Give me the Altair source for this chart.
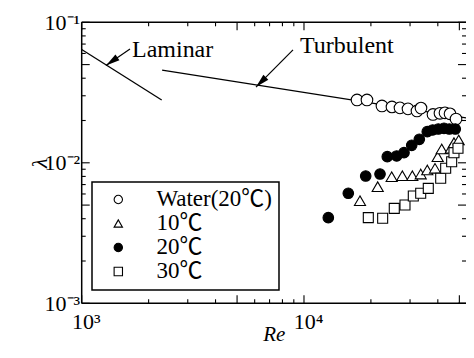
import altair as alt
import pandas as pd

# ---------------- data ----------------
series = ["Water(20℃)", "10℃", "20℃", "30℃"]

water_re = [17320, 19200, 22430, 24880, 27030, 29370, 32230, 33600, 38050, 40900, 43080, 45390, 48300]
water_lam = [0.0280, 0.0280, 0.0254, 0.0250, 0.0246, 0.0242, 0.0234, 0.0245, 0.0221, 0.0225, 0.0227, 0.0223, 0.0205]

t10_re = [17860, 21460, 24800, 27690, 30710, 33500, 35860, 38850, 39940, 41640, 45700, 47290, 49650]
t10_lam = [0.00537, 0.00676, 0.00796, 0.00809, 0.00809, 0.00832, 0.00889, 0.00914, 0.01105, 0.01254, 0.01268, 0.0139, 0.01453]

t20_re = [12865, 15825, 18950, 21980, 23700, 26120, 28180, 30520, 33020, 35860, 37920, 40180, 42640, 45050, 47920]
t20_lam = [0.00407, 0.00607, 0.00805, 0.00832, 0.01105, 0.01118, 0.0118, 0.01332, 0.01469, 0.01665, 0.01712, 0.0174, 0.0176, 0.0174, 0.0174]

t30_re = [19470, 22590, 25480, 28470, 31030, 33500, 36240, 41210, 43390, 46170, 47290, 49300]
t30_lam = [0.00407, 0.00403, 0.00474, 0.00501, 0.0058, 0.00607, 0.00658, 0.00776, 0.00914, 0.01018, 0.0118, 0.01268]

laminar_re = [1000, 2290]
laminar_lam = [0.064, 0.028]
turbulent_re = [2300, 60000]
turbulent_lam = [0.0457, 0.0203]

# annotation arrows: tail -> head
arrow_names = ["Laminar", "Turbulent"]
arrow_tail_re = [1649, 8925]
arrow_tail_lam = [0.0646, 0.0636]
arrow_head_re = [1286, 6081]
arrow_head_lam = [0.0493, 0.0346]
label_re = [1684, 9594]
label_lam = [0.0569, 0.0602]

x_major = [1000, 5000, 10000, 50000]
x_minor = [2000, 3000, 4000, 6000, 7000, 8000, 9000, 20000, 30000, 40000]
y_major = [0.001, 0.005, 0.01, 0.05, 0.1]
y_minor = [0.002, 0.003, 0.004, 0.006, 0.007, 0.008, 0.009,
           0.02, 0.03, 0.04, 0.06, 0.07, 0.08, 0.09]

# ---------------- chart ----------------
W, H = 384.3, 281
FONT = "Liberation Serif"
LFONT = "Liberation Serif, Noto Sans CJK JP"

xscale = alt.Scale(type="log", domain=[1000, 53560], nice=False)
yscale = alt.Scale(type="log", domain=[0.001, 0.1], nice=False)

xaxis = alt.Axis(values=[1000, 10000],
                 labelExpr="datum.value < 5000 ? '10³' : '10⁴'",
                 ticks=False, tickSize=0, domain=False, grid=False,
                 labelFont=FONT, labelFontSize=22, labelColor="black",
                 labelPadding=8, labelOffset=4, labelFlush=False, labelOverlap=False,
                 title="Re", titleFont=FONT, titleFontSize=21, titleFontStyle="italic",
                 titleFontWeight="normal", titleColor="black", titleY=37,
                 titleBaseline="alphabetic")
yaxis = alt.Axis(values=[0.001, 0.01, 0.1],
                 labelExpr="datum.value < 0.005 ? '10⁻³' : (datum.value < 0.05 ? '10⁻²' : '10⁻¹')",
                 ticks=False, tickSize=0, domain=False, grid=False,
                 labelFont=FONT, labelFontSize=22, labelColor="black",
                 labelPadding=2, labelAlign="right", labelBaseline="middle",
                 labelFlush=False, labelOverlap=False,
                 title="λ", titleFont=FONT, titleFontSize=22, titleFontStyle="italic",
                 titleFontWeight="normal", titleColor="black", titleX=-42, titleY=140.5,
                 titleAngle=270, titleAlign="center", titleBaseline="middle")


def X(f):
    return alt.X(f, type="quantitative", scale=xscale, axis=xaxis)


def Y(f):
    return alt.Y(f, type="quantitative", scale=yscale, axis=yaxis)


layers = []
one = pd.DataFrame({"a": [0]})

# frame: left, top, bottom (right edge lies beyond the cropped figure)
layers.append(alt.Chart(one).mark_rule(color="black", strokeWidth=1.5).encode(
    x=alt.value(0), y=alt.value(0), y2=alt.value(H)))
layers.append(alt.Chart(one).mark_rule(color="black", strokeWidth=1.5).encode(
    y=alt.value(0), x=alt.value(0), x2=alt.value(W)))
layers.append(alt.Chart(one).mark_rule(color="black", strokeWidth=1.5).encode(
    y=alt.value(H), x=alt.value(0), x2=alt.value(W)))

# tick marks (inward) on all four sides
for vals, ln in [(x_major, 8), (x_minor, 4)]:
    d = pd.DataFrame({"v": vals})
    layers.append(alt.Chart(d).mark_rule(color="black", strokeWidth=1.1).encode(
        x=X("v"), y=alt.value(H), y2=alt.value(H - ln)))
    layers.append(alt.Chart(d).mark_rule(color="black", strokeWidth=1.1).encode(
        x=X("v"), y=alt.value(0), y2=alt.value(ln)))
for vals, ln in [(y_major, 8), (y_minor, 4)]:
    d = pd.DataFrame({"v": vals})
    layers.append(alt.Chart(d).mark_rule(color="black", strokeWidth=1.1).encode(
        y=Y("v"), x=alt.value(0), x2=alt.value(ln)))
    layers.append(alt.Chart(d).mark_rule(color="black", strokeWidth=1.1).encode(
        y=Y("v"), x=alt.value(W), x2=alt.value(W - ln)))

# laminar & turbulent lines
lam_df = pd.DataFrame({"Re": laminar_re, "lam": laminar_lam})
tur_df = pd.DataFrame({"Re": turbulent_re, "lam": turbulent_lam})
layers.append(alt.Chart(lam_df).mark_line(color="black", strokeWidth=1.3, clip=True).encode(
    x=X("Re"), y=Y("lam")))
layers.append(alt.Chart(tur_df).mark_line(color="black", strokeWidth=1.4, clip=True).encode(
    x=X("Re"), y=Y("lam")))

# arrows
arr_df = pd.DataFrame({"name": arrow_names, "x1": arrow_tail_re, "y1": arrow_tail_lam,
                       "x2": arrow_head_re, "y2": arrow_head_lam,
                       "lx": label_re, "ly": label_lam})
layers.append(alt.Chart(arr_df).mark_rule(color="black", strokeWidth=1.2).encode(
    x=X("x1"), x2=alt.X2("x2"), y=Y("y1"), y2=alt.Y2("y2")))
head_path = "M0,0L0.45,1.8L-0.45,1.8Z"
for name, ang in [("Laminar", 235), ("Turbulent", 225)]:
    layers.append(alt.Chart(arr_df[arr_df["name"] == name]).mark_point(
        shape=head_path, filled=True, color="black", size=242, angle=ang, opacity=1,
        strokeWidth=0).encode(x=X("x2"), y=Y("y2")))
layers.append(alt.Chart(arr_df).mark_text(
    align="left", baseline="alphabetic", font=FONT, fontSize=24, color="black").encode(
    x=X("lx"), y=Y("ly"), text="name:N"))

# data points
frames = []
for s, r, l in zip(series, [water_re, t10_re, t20_re, t30_re],
                   [water_lam, t10_lam, t20_lam, t30_lam]):
    frames.append(pd.DataFrame({"Re": r, "lam": l, "s": s, "g": s}))
pts = pd.concat(frames, ignore_index=True)

legend = alt.Legend(title=None, orient="none", legendX=10.3, legendY=159.7,
                    strokeColor="black", fillColor="white", padding=6, rowPadding=-2,
                    symbolSize=70, symbolOffset=8.8, labelOffset=26.6,
                    labelFont=LFONT, labelFontSize=23, labelColor="black",
                    symbolStrokeColor="black", symbolStrokeWidth=1.1,
                    labelExpr="indexof(datum.value, 'Water') >= 0 ? datum.value : '\u00a0\u00a0' + datum.value")

layers.append(alt.Chart(pts).mark_point(filled=False, strokeWidth=1.1,
                                        opacity=1, fillOpacity=1).encode(
    x=X("Re"), y=Y("lam"),
    shape=alt.Shape("s:N", scale=alt.Scale(domain=series, range=["circle", "triangle-up", "circle", "square"]), legend=legend),
    fill=alt.Fill("s:N", scale=alt.Scale(domain=series, range=["white", "white", "black", "white"]), legend=legend),
    stroke=alt.Stroke("s:N", scale=alt.Scale(domain=series, range=["black", "black", "black", "black"]), legend=legend),
    size=alt.Size("g:N", sort=series, scale=alt.Scale(range=[135, 100, 80, 72]), legend=None),
))

chart = alt.layer(*layers).properties(
    width=W, height=H,
    autosize=alt.AutoSizeParams(type="none"),
    padding={"left": 73.7, "top": 14.3, "right": 0, "bottom": 42},
    background="white",
).configure_view(strokeWidth=0).configure_legend(strokeWidth=1.5)

chart.save("out.html", embed_options={"renderer": "svg", "actions": False})
